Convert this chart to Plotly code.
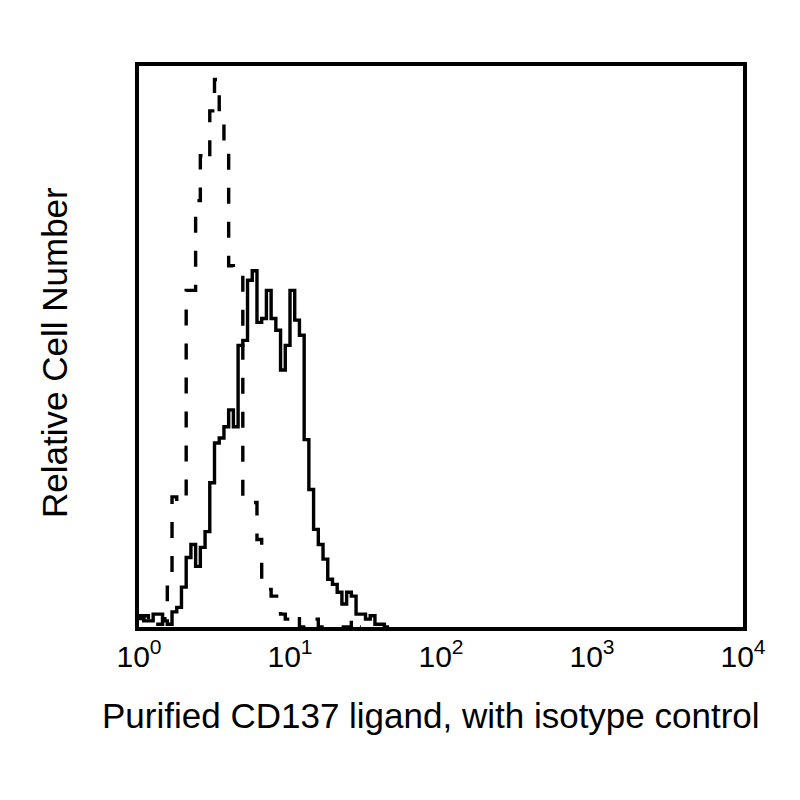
import plotly.graph_objects as go

# Histogram channels: 32 channels per decade on a 4-decade log scale
channels_per_decade = 32

# CD137 ligand stained (solid) - counts per channel, starting at channel 0
cd137_counts = [2.0, 1.1, 1.1, 2.3, 2.3, 1.1, 0.5, 2.7, 3.5, 7.1,
                12.4, 14.7, 10.8, 14.2, 17.0, 25.7, 32.8, 33.7, 35.7, 38.7,
                35.7, 50.2, 51.1, 61.8, 63.5, 54.3, 55.0, 60.0, 55.0, 52.9,
                45.8, 50.2, 60.0, 54.7, 52.0, 33.4, 24.5, 17.4, 14.7, 12.1,
                8.5, 7.6, 6.2, 4.1, 6.2, 5.5, 2.3, 2.3, 1.4, 2.0,
                0.5, 0.5, 0.0]

# Isotype control (dashed)
isotype_counts = [1.5, 2.0, 1.0, 1.5, 0.5, 1.5, 7.1, 23.2, 22.2, 22.2,
                  60.0, 60.0, 76.0, 84.0, 83.0, 92.0, 97.6, 90.5, 84.8, 64.4,
                  63.9, 63.5, 22.7, 22.2, 22.2, 15.6, 8.5, 6.7, 5.5, 5.5,
                  2.3, 1.4, 2.3, 2.3, 0.0, 0.0, 0.0, 1.4, 0.0, 0.0,
                  0.0, 0.0, 0.0, 0.0, 0.0, 1.4, 0.0]

tick_vals = [1, 10, 100, 1000, 10000]
tick_text = ["10<sup>0</sup>", "10<sup>1</sup>", "10<sup>2</sup>",
             "10<sup>3</sup>", "10<sup>4</sup>"]

x_title = "Purified CD137 ligand, with isotype control"
y_title = "Relative Cell Number"


def step_xy(counts):
    xs = [10 ** (k / channels_per_decade) for k in range(len(counts) + 1)]
    ys = list(counts) + [counts[-1]]
    return xs, ys


fig = go.Figure()

xi, yi = step_xy(isotype_counts)
fig.add_trace(go.Scatter(x=xi, y=yi, mode="lines", line_shape="hv",
                         line=dict(color="black", width=3.4, dash="16px,18px"),
                         name="Isotype control", showlegend=False))

xs, ys = step_xy(cd137_counts)
fig.add_trace(go.Scatter(x=xs, y=ys, mode="lines", line_shape="hv",
                         line=dict(color="black", width=3.4),
                         name="CD137 ligand", showlegend=False))

fig.update_layout(
    width=800, height=800,
    margin=dict(l=131, r=65, t=58, b=181, pad=0),
    paper_bgcolor="white", plot_bgcolor="white",
    font=dict(family="Liberation Sans, Arial, sans-serif", color="black"),
    xaxis=dict(type="log", range=[0, 4], tickvals=tick_vals, ticktext=tick_text,
               showgrid=False, zeroline=False, showline=True, mirror=True,
               linecolor="black", linewidth=3.5, ticks="",
               tickfont=dict(size=30)),
    yaxis=dict(range=[0, 100], showticklabels=False, showgrid=False,
               zeroline=False, showline=True, mirror=True,
               linecolor="black", linewidth=3.5, ticks=""),
    annotations=[
        dict(text=x_title, xref="paper", yref="paper", x=0.484, y=-0.158,
             xanchor="center", yanchor="middle", showarrow=False,
             font=dict(size=35)),
        dict(text=y_title, xref="paper", yref="paper", x=-0.141, y=0.49,
             xanchor="center", yanchor="middle", textangle=-90,
             showarrow=False, font=dict(size=35)),
    ],
)

fig.write_html("out.html")
